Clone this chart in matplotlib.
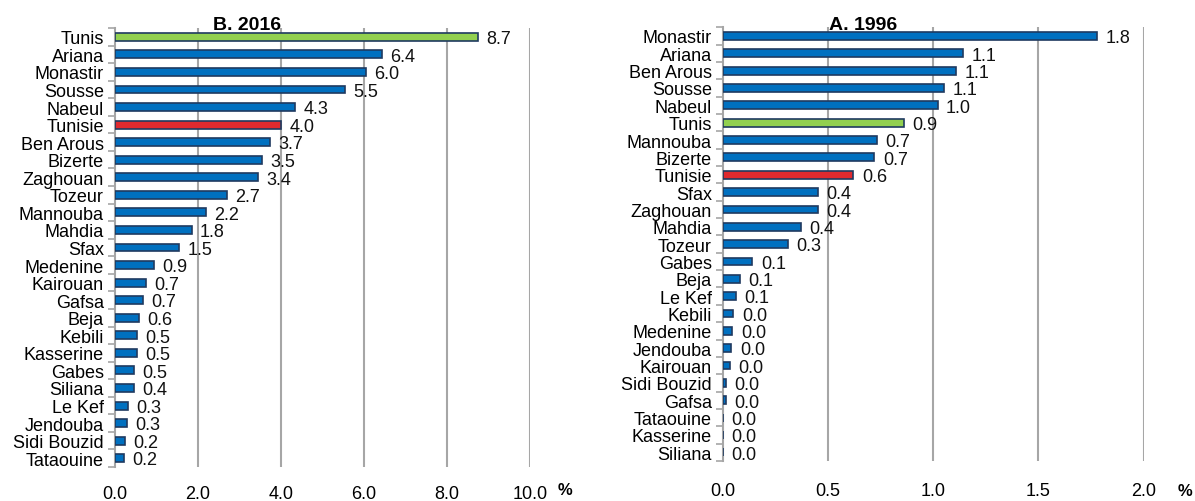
import numpy as np
import matplotlib
matplotlib.use("Agg")
import matplotlib.pyplot as plt

plt.rcParams['font.family'] = ['Liberation Sans Narrow', 'Liberation Sans', 'DejaVu Sans']

# B. 2016
regions_2016 = ["Tunis", "Ariana", "Monastir", "Sousse", "Nabeul", "Tunisie", "Ben Arous",
                "Bizerte", "Zaghouan", "Tozeur", "Mannouba", "Mahdia", "Sfax", "Medenine",
                "Kairouan", "Gafsa", "Beja", "Kebili", "Kasserine", "Gabes", "Siliana",
                "Le Kef", "Jendouba", "Sidi Bouzid", "Tataouine"]
values_2016 = [8.74, 6.44, 6.04, 5.54, 4.35, 4.0, 3.73, 3.54, 3.44, 2.70, 2.19, 1.85, 1.55,
               0.93, 0.74, 0.68, 0.58, 0.53, 0.52, 0.46, 0.45, 0.32, 0.29, 0.25, 0.22]
labels_2016 = ["8.7", "6.4", "6.0", "5.5", "4.3", "4.0", "3.7", "3.5", "3.4", "2.7", "2.2",
               "1.8", "1.5", "0.9", "0.7", "0.7", "0.6", "0.5", "0.5", "0.5", "0.4", "0.3",
               "0.3", "0.2", "0.2"]

# A. 1996
regions_1996 = ["Monastir", "Ariana", "Ben Arous", "Sousse", "Nabeul", "Tunis", "Mannouba",
                "Bizerte", "Tunisie", "Sfax", "Zaghouan", "Mahdia", "Tozeur", "Gabes", "Beja",
                "Le Kef", "Kebili", "Medenine", "Jendouba", "Kairouan", "Sidi Bouzid", "Gafsa",
                "Tataouine", "Kasserine", "Siliana"]
values_1996 = [1.78, 1.14, 1.11, 1.05, 1.02, 0.86, 0.73, 0.72, 0.62, 0.45, 0.45, 0.37, 0.31,
               0.14, 0.08, 0.06, 0.05, 0.045, 0.04, 0.035, 0.015, 0.015, 0.0, 0.0, 0.0]
labels_1996 = ["1.8", "1.1", "1.1", "1.1", "1.0", "0.9", "0.7", "0.7", "0.6", "0.4", "0.4",
               "0.4", "0.3", "0.1", "0.1", "0.1", "0.0", "0.0", "0.0", "0.0", "0.0", "0.0",
               "0.0", "0.0", "0.0"]

BLUE = "#0070C0"
GREEN = "#92D050"
RED = "#E02A2F"
EDGE = "#1F3A60"
GRID = "#A6A6A6"


def bar_color(name):
    if name == "Tunis":
        return GREEN
    if name == "Tunisie":
        return RED
    return BLUE


def draw_panel(ax, names, values, labels, xmax, step, offset, xpad):
    n = len(names)
    y = np.arange(n)
    ax.barh(y, values, height=0.45, color=[bar_color(r) for r in names],
            edgecolor=EDGE, linewidth=1.2, zorder=3)
    for yi, v, lab in zip(y, values, labels):
        ax.text(v + offset, yi + 0.1, lab, va="center", ha="left", fontsize=13, color="#111111")
    ax.set_ylim(n - 0.5, -0.5)
    ax.set_xlim(0, xmax)
    ax.set_yticks(y)
    ax.set_yticklabels(names, fontsize=13)
    ax.set_yticks(np.arange(n + 1) - 0.5, minor=True)
    ax.tick_params(axis="y", which="major", length=0, pad=8)
    ax.tick_params(axis="y", which="minor", length=5, color=GRID, width=1.2)
    ticks = np.arange(0, xmax + step / 2, step)
    ax.set_xticks(ticks)
    ax.set_xticklabels(["{:.1f}".format(t) for t in ticks], fontsize=13)
    ax.tick_params(axis="x", length=0, pad=xpad)
    for t in ticks[1:]:
        ax.axvline(t, color=GRID, linewidth=1.5, zorder=1)
    for s in ["top", "right", "bottom"]:
        ax.spines[s].set_visible(False)
    ax.spines["left"].set_color(GRID)
    ax.spines["left"].set_linewidth(1.5)


fig = plt.figure(figsize=(11.95, 5.02), dpi=100)
ax1 = fig.add_axes([0.0962, 0.0677, 0.3473, 0.8745])
ax2 = fig.add_axes([0.605, 0.0797, 0.352, 0.864])

draw_panel(ax1, regions_2016, values_2016, labels_2016, 10.0, 2.0, 0.2, 13)
draw_panel(ax2, regions_1996, values_1996, labels_1996, 2.0, 0.5, 0.04, 15)

fig.text(0.207, 0.949, "B. 2016", fontsize=14, fontweight="bold", ha="center", va="center")
fig.text(0.722, 0.949, "A. 1996", fontsize=14, fontweight="bold", ha="center", va="center")
fig.text(0.4728, 0.022, "%", fontsize=12, fontweight="bold", ha="center", va="center")
fig.text(0.9916, 0.02, "%", fontsize=12, fontweight="bold", ha="center", va="center")

fig.savefig("out.png", dpi=100)
